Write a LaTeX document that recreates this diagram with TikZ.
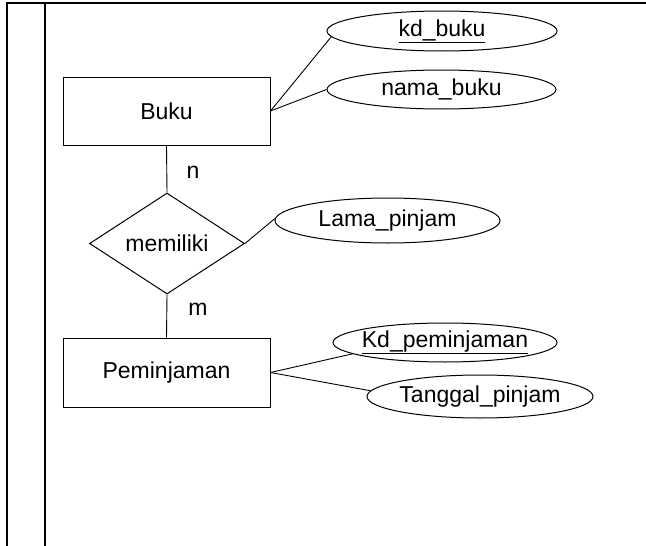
\documentclass[tikz,border=0pt]{standalone}
\usepackage{fontspec}
\setmainfont{Liberation Sans}
\usetikzlibrary{shapes.geometric}
\begin{document}
\begin{tikzpicture}[x=1pt,y=-1pt,
  every node/.style={font=\fontsize{23}{27}\selectfont, text=black},
  entity/.style={draw, line width=1pt, rectangle, minimum width=207pt,
    minimum height=68pt, inner sep=0pt},
  attr/.style={draw, ellipse, line width=1pt, inner sep=0pt},
  relation/.style={draw, diamond, line width=1pt, inner sep=0pt,
    minimum width=155pt, minimum height=101pt, aspect=1.5},
  card/.style={inner sep=0pt},
  link/.style={line width=0.9pt},
  frame/.style={line width=2.4pt}]
\useasboundingbox (0,0) rectangle (646,546);

% page frame
\draw[frame] (5.8,3) -- (646,3);
\draw[frame] (7,2) -- (7,546);
\draw[frame] (44.7,2) -- (44.7,546);

% entities and relationship
\node[entity] (buku) at (166.5,111) {Buku};
\node[relation] (rel) at (167,243.5) {memiliki};
\node[entity, minimum height=69pt] (pem) at (166.5,372.5) {Peminjaman};

% attributes
\node[attr, minimum width=230pt, minimum height=40pt] (kdbuku) at (442,31)
  {\makebox[0pt]{\underline{kd\_buku}}};
\node[attr, minimum width=229pt, minimum height=39pt] (nama) at (441.5,89.5)
  {\makebox[0pt]{nama\_buku}};
\node[attr, minimum width=225pt, minimum height=45pt] (lama) at (387.5,220.5)
  {\makebox[0pt]{Lama\_pinjam}};
\node[attr, minimum width=224pt, minimum height=39pt] (kdpem) at (445,342.5)
  {\makebox[0pt]{\underline{Kd\_peminjaman}}};
\node[attr, minimum width=226pt, minimum height=43pt] (tgl) at (480,396.5)
  {\makebox[0pt]{Tanggal\_pinjam}};

% cardinalities
\node[card] (n) at (193,172) {n};
\node[card] (m) at (198,309) {m};

% connectors
\draw[link] (buku.south) -- (rel.north);
\draw[link] (rel.south) -- (pem.north);
\draw[link] (buku.east) -- (kdbuku.183);
\draw[link] (buku.east) -- (nama.west);
\draw[link] (rel.east) -- (lama.179);
\draw[link] (pem.east) -- (kdpem.187);
\draw[link] (pem.east) -- (tgl.177);
\end{tikzpicture}
\end{document}
